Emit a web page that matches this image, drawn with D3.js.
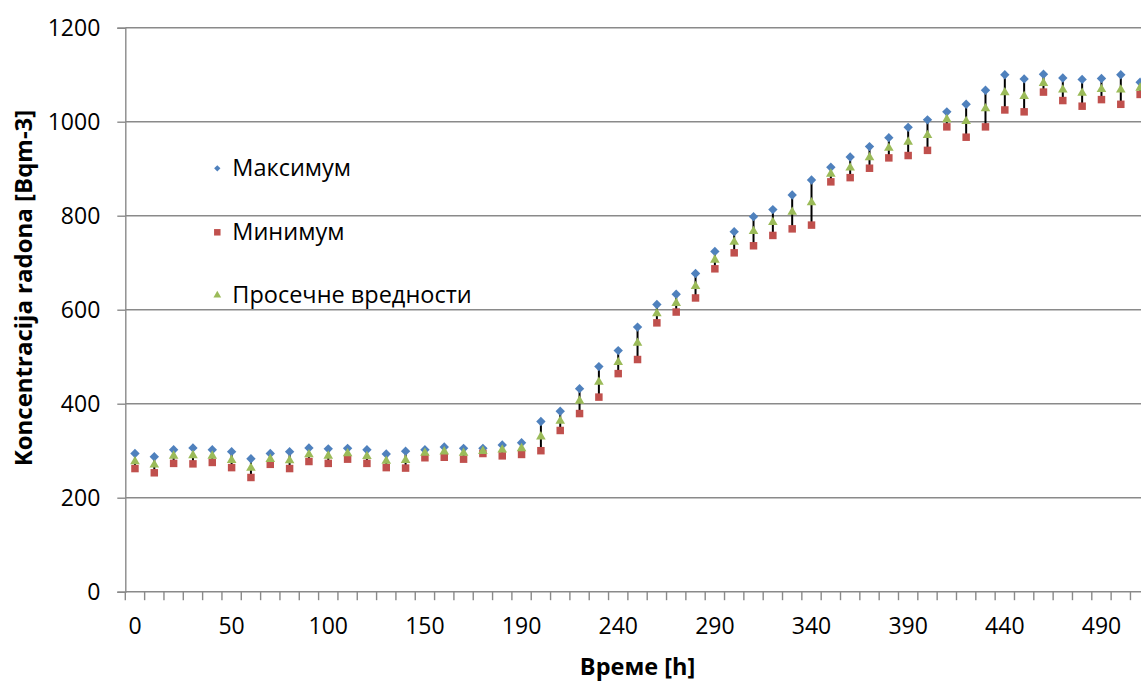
<!DOCTYPE html>
<html>
<head>
<meta charset="utf-8">
<script src="https://cdn.jsdelivr.net/npm/d3@7"></script>
<style>
  html, body { margin: 0; padding: 0; background: #ffffff; }
  svg { display: block; }
  text { font-family: "Open Sans", "Noto Sans", sans-serif; fill: #000; }
</style>
</head>
<body>
<svg id="chart" width="1141" height="682"></svg>
<script>
// Measurement times (h)
const hours = [0, 10, 20, 30, 40, 50, 60, 70, 80, 90, 100, 110, 120, 130, 140, 150,
  158, 166, 174, 182,
  190, 200, 210, 220, 230, 240, 250, 260, 270, 280, 290, 300, 310, 320, 330, 340,
  350, 360, 370, 380, 390, 400, 410, 420, 430, 440, 450, 460, 470, 480, 490, 500, 510];

// Radon concentration, Bq/m3
const maxVals = [294, 287, 302, 306, 302, 298, 283, 294, 298, 306, 304, 305, 302, 293, 299, 302,
  308, 305, 305, 312,
  317, 362, 384, 432, 479, 513, 563, 611, 633, 677, 724, 766, 798, 813, 844, 876,
  903, 925, 947, 966, 988, 1004, 1021, 1037, 1067, 1100, 1091, 1101, 1093, 1090, 1092, 1100, 1084];

const minVals = [262, 253, 273, 272, 275, 264, 243, 271, 262, 277, 273, 282, 273, 264, 263, 285,
  286, 282, 294, 289,
  292, 300, 343, 379, 414, 464, 494, 572, 595, 625, 687, 721, 736, 758, 772, 780,
  872, 881, 901, 923, 928, 939, 989, 967, 989, 1025, 1021, 1063, 1045, 1033, 1047, 1037, 1058];

const avgVals = [277, 270, 289, 290, 289, 280, 263, 282, 279, 292, 289, 294, 288, 278, 280, 295,
  298, 295, 299, 302,
  305, 330, 363, 406, 446, 488, 529, 592, 614, 650, 706, 744, 767, 786, 808, 828,
  889, 902, 924, 944, 957, 971, 1005, 1001, 1028, 1062, 1054, 1082, 1068, 1061, 1069, 1068, 1072];

const yTicks = [0, 200, 400, 600, 800, 1000, 1200];
const xLabelHours = [0, 50, 100, 150, 190, 240, 290, 340, 390, 440, 490];

const seriesNames = ["Максимум", "Минимум", "Просечне вредности"];
const seriesColors = ["#4f81bd", "#c0504d", "#9bbb59"];

const xTitle = "Време [h]";
const yTitle = "Koncentracija radona [Bqm-3]";

// Layout
const plot = { left: 125.3, top: 27.7, bottom: 591.7 };
const bandW = 19.33;
plot.right = plot.left + bandW * hours.length;

const svg = d3.select("#chart");
const axisColor = "#8a8a8a";

const cats = hours.map(String);
const x = d3.scaleBand().domain(cats).range([plot.left, plot.right]).padding(0);
const y = d3.scaleLinear().domain([0, 1200]).range([plot.bottom, plot.top]);
const cx = i => x(cats[i]) + x.bandwidth() / 2;

// Square diamond marker (equal diagonals)
const symbolRhomb = {
  draw(context, size) {
    const r = Math.sqrt(size / 2);
    context.moveTo(0, -r);
    context.lineTo(r, 0);
    context.lineTo(0, r);
    context.lineTo(-r, 0);
    context.closePath();
  }
};

// Horizontal gridlines
svg.append("g")
  .selectAll("line")
  .data(yTicks.filter(d => d > 0))
  .join("line")
  .attr("x1", plot.left).attr("x2", 1141)
  .attr("y1", d => y(d)).attr("y2", d => y(d))
  .attr("stroke", axisColor).attr("stroke-width", 1.4);

// Y axis
const yAxis = svg.append("g")
  .attr("transform", `translate(${plot.left},0)`)
  .call(d3.axisLeft(y).tickValues(yTicks).tickSize(8).tickPadding(17).tickFormat(d3.format("d")));
yAxis.select(".domain").attr("stroke", axisColor).attr("stroke-width", 1.4);
yAxis.selectAll(".tick line").attr("stroke", axisColor).attr("stroke-width", 1.4);
yAxis.selectAll(".tick text").attr("font-size", 23).attr("font-family", "Open Sans").attr("fill", "#000");

// X axis line and category boundary ticks
svg.append("line")
  .attr("x1", plot.left).attr("x2", 1141)
  .attr("y1", plot.bottom).attr("y2", plot.bottom)
  .attr("stroke", axisColor).attr("stroke-width", 1.4);
svg.append("g")
  .selectAll("line")
  .data(cats.concat(["end"]))
  .join("line")
  .attr("x1", d => d === "end" ? plot.right : x(d))
  .attr("x2", d => d === "end" ? plot.right : x(d))
  .attr("y1", plot.bottom).attr("y2", plot.bottom + 8.5)
  .attr("stroke", axisColor).attr("stroke-width", 1.4);

// X labels
const xAxis = svg.append("g")
  .attr("transform", `translate(0,${plot.bottom})`)
  .call(d3.axisBottom(x).tickValues(xLabelHours.map(String)).tickSize(0).tickPadding(26));
xAxis.select(".domain").remove();
xAxis.selectAll(".tick text").attr("font-size", 23).attr("font-family", "Open Sans").attr("fill", "#000");

// Axis titles
svg.append("text")
  .attr("x", (plot.left + plot.right) / 2)
  .attr("y", 675)
  .attr("text-anchor", "middle")
  .attr("font-size", 23.5)
  .attr("font-weight", "bold")
  .text(xTitle);

svg.append("text")
  .attr("transform", `translate(32,288) rotate(-90)`)
  .attr("text-anchor", "middle")
  .attr("font-size", 24)
  .attr("font-weight", "bold")
  .text(yTitle);

// High-low lines between minimum and maximum
svg.append("g")
  .selectAll("line")
  .data(hours.map((h, i) => i))
  .join("line")
  .attr("x1", i => cx(i)).attr("x2", i => cx(i))
  .attr("y1", i => y(maxVals[i])).attr("y2", i => y(minVals[i]))
  .attr("stroke", "#000").attr("stroke-width", 2);

// Markers
const symbols = [symbolRhomb, d3.symbolSquare, d3.symbolTriangle];
const sizes = [44, 56, 40];
const seriesData = [maxVals, minVals, avgVals];

seriesData.forEach((vals, s) => {
  svg.append("g")
    .selectAll("path")
    .data(vals)
    .join("path")
    .attr("transform", (v, i) => `translate(${cx(i)},${y(v)})`)
    .attr("d", d3.symbol(symbols[s], sizes[s]))
    .attr("fill", seriesColors[s]);
});

// Legend
const legendY = [168.3, 232.3, 295.3];
const legendSizes = [20, 42, 26];
const legend = svg.append("g");
seriesNames.forEach((name, s) => {
  legend.append("path")
    .attr("transform", `translate(217.3,${legendY[s]})`)
    .attr("d", d3.symbol(symbols[s], legendSizes[s]))
    .attr("fill", seriesColors[s]);
  legend.append("text")
    .attr("x", 232.3)
    .attr("y", legendY[s] + 8)
    .attr("font-size", 23.5)
    .text(name);
});
</script>
</body>
</html>
